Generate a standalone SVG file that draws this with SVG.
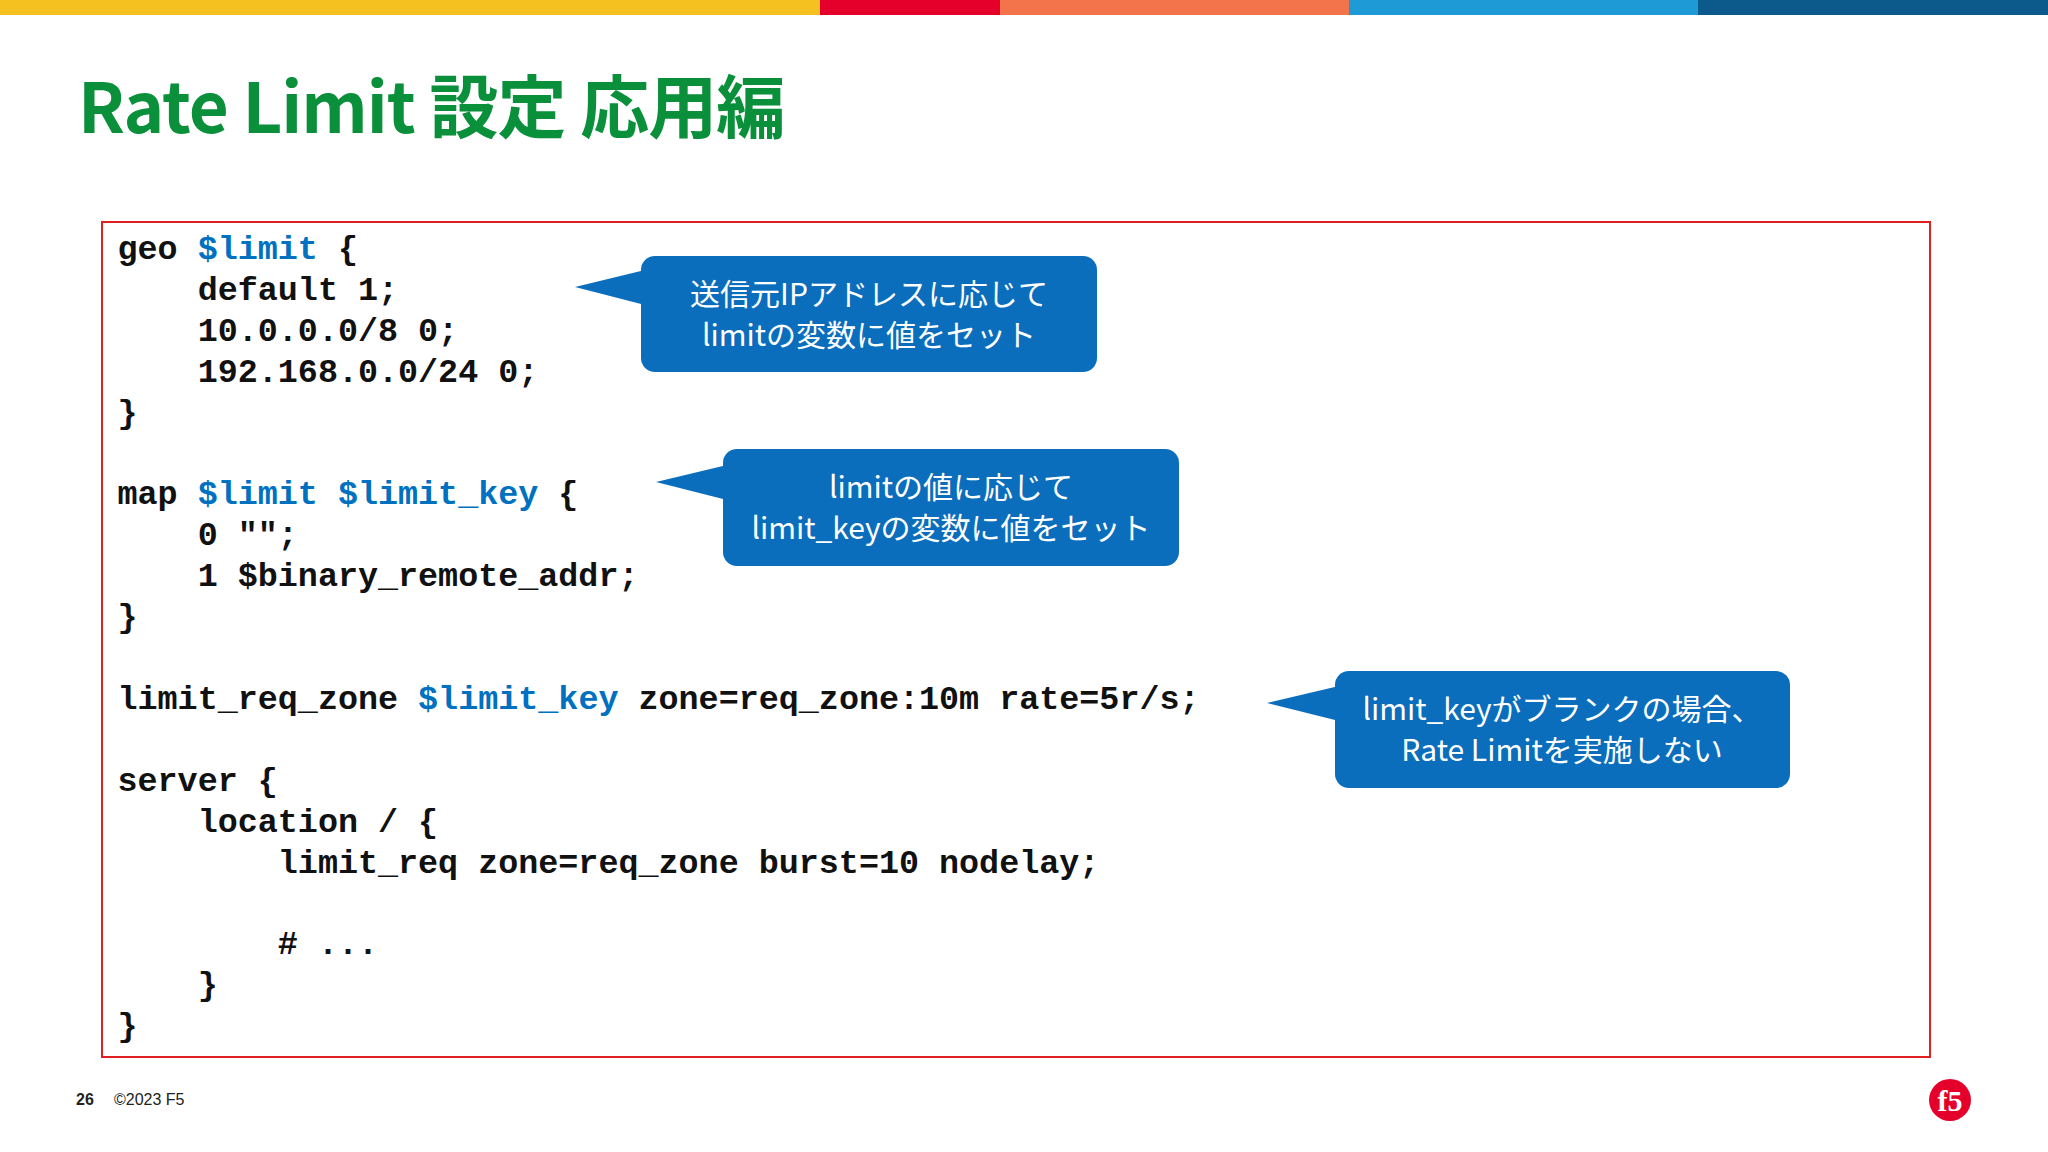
<svg xmlns="http://www.w3.org/2000/svg" width="2048" height="1152" viewBox="0 0 2048 1152">
<style>
.c{font-family:"Liberation Mono","DejaVu Sans Mono",monospace;font-weight:bold;font-size:33.4px;fill:#111;white-space:pre}
.v{fill:#0070c0}
.bt{font-family:"Noto Sans CJK JP","Noto Sans",sans-serif;font-size:30px;fill:#fff;text-anchor:middle}
.bub{fill:#0a6ebd}
</style>
<rect width="2048" height="1152" fill="#fff"/>
<rect x="0" y="0" width="820" height="15" fill="#f5c120"/>
<rect x="820" y="0" width="180" height="15" fill="#e4002b"/>
<rect x="1000" y="0" width="349" height="15" fill="#f3734a"/>
<rect x="1349" y="0" width="349" height="15" fill="#1e9bd7"/>
<rect x="1698" y="0" width="350" height="15" fill="#0c5a8c"/>
<text x="78" y="133" font-family="'Noto Sans CJK JP','Noto Sans',sans-serif" font-weight="bold" font-size="69" fill="#0a8f3a" letter-spacing="-1">Rate Limit 設定 応用編</text>
<rect x="102" y="222" width="1828" height="835" fill="none" stroke="#e02020" stroke-width="2"/>
<g id="code">
<text class="c" x="117.5" y="259">geo <tspan class="v">$limit</tspan> {</text>
<text class="c" x="117.5" y="300">    default 1;</text>
<text class="c" x="117.5" y="341">    10.0.0.0/8 0;</text>
<text class="c" x="117.5" y="382">    192.168.0.0/24 0;</text>
<text class="c" x="117.5" y="423">}</text>
<text class="c" x="117.5" y="504">map <tspan class="v">$limit $limit_key</tspan> {</text>
<text class="c" x="117.5" y="545">    0 "";</text>
<text class="c" x="117.5" y="586">    1 $binary_remote_addr;</text>
<text class="c" x="117.5" y="627">}</text>
<text class="c" x="117.5" y="709">limit_req_zone <tspan class="v">$limit_key</tspan> zone=req_zone:10m rate=5r/s;</text>
<text class="c" x="117.5" y="791">server {</text>
<text class="c" x="117.5" y="832">    location / {</text>
<text class="c" x="117.5" y="873">        limit_req zone=req_zone burst=10 nodelay;</text>
<text class="c" x="117.5" y="954">        # ...</text>
<text class="c" x="117.5" y="995">    }</text>
<text class="c" x="117.5" y="1036">}</text>
</g>
<g id="callout1">
<path class="bub" d="M575,287 L645,270 L645,305 Z"/>
<rect class="bub" x="641" y="256" width="456" height="116" rx="14"/>
<text class="bt" x="869" y="305">送信元IPアドレスに応じて</text>
<text class="bt" x="869" y="346">limitの変数に値をセット</text>
</g>
<g id="callout2">
<path class="bub" d="M656,482 L727,465 L727,500 Z"/>
<rect class="bub" x="723" y="449" width="456" height="117" rx="14"/>
<text class="bt" x="951" y="498">limitの値に応じて</text>
<text class="bt" x="951" y="539">limit_keyの変数に値をセット</text>
</g>
<g id="callout3">
<path class="bub" d="M1267,703 L1339,686 L1339,721 Z"/>
<rect class="bub" x="1335" y="671" width="455" height="117" rx="14"/>
<text class="bt" x="1562" y="720">limit_keyがブランクの場合、</text>
<text class="bt" x="1562" y="761">Rate Limitを実施しない</text>
</g>
<text x="76" y="1105" font-family="'Liberation Sans',sans-serif" font-weight="bold" font-size="16" fill="#222">26</text>
<text x="114" y="1105" font-family="'Liberation Sans',sans-serif" font-size="16" fill="#222">©2023 F5</text>
<circle cx="1950" cy="1100" r="21" fill="#e4002b"/>
<text x="1950" y="1111" text-anchor="middle" font-family="'Liberation Serif',serif" font-weight="bold" font-size="30" fill="#fff">f5</text>
</svg>
